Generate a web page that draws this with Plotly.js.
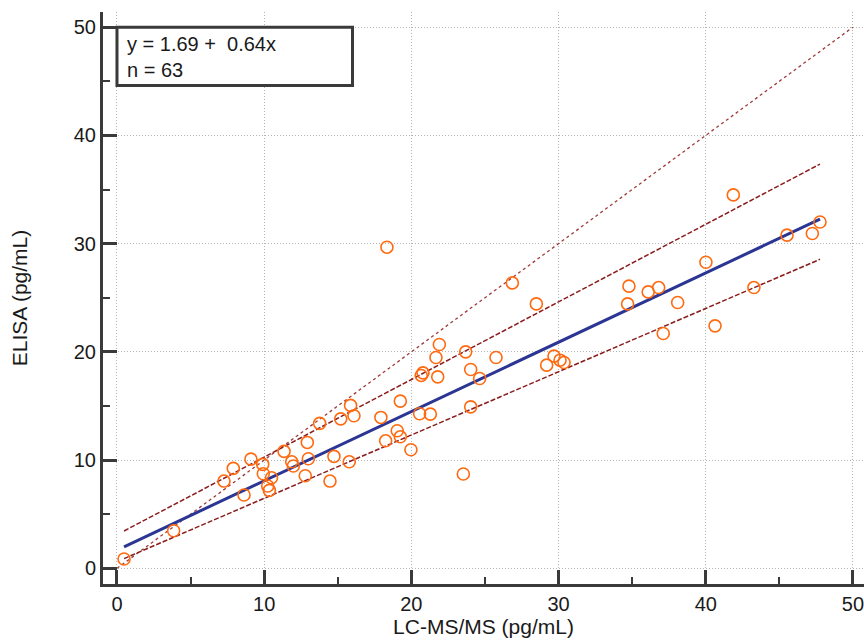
<!DOCTYPE html>
<html>
<head>
<meta charset="utf-8">
<script src="https://cdn.plot.ly/plotly-3.0.1.min.js"></script>
<style>
  html, body { margin: 0; padding: 0; background: #fff; }
  #chart { width: 864px; height: 641px; }
</style>
</head>
<body>
<div id="chart"></div>
<script>
// Measured points (LC-MS/MS vs ELISA, pg/mL)
const lcms = [
  0.48, 3.85, 7.27, 7.9, 9.1, 8.63, 9.9, 9.94, 10.5, 10.24, 10.35, 11.35, 11.87, 11.98,
  12.93, 13.0, 12.79, 13.77, 14.47, 14.74, 15.2, 15.78, 15.87,
  18.34, 26.86, 28.49, 21.9, 23.69, 21.67, 25.75, 20.79, 20.67, 21.79, 24.03, 24.64,
  29.19, 29.69, 30.1, 30.37, 19.25, 16.1, 17.93, 20.56, 21.29, 24.03, 19.04, 19.25,
  18.25, 19.97, 23.53,
  41.87, 47.76, 45.52, 47.24, 40.01, 34.78, 36.8, 36.09, 34.69, 38.09, 43.27, 40.63, 37.11
];
const elisa = [
  0.86, 3.47, 8.06, 9.23, 10.09, 6.77, 9.6, 8.74, 8.37, 7.6, 7.2, 10.8, 9.84, 9.45,
  11.63, 10.12, 8.55, 13.39, 8.06, 10.34, 13.81, 9.84, 15.05,
  29.67, 26.37, 24.43, 20.68, 20.0, 19.48, 19.48, 18.06, 17.82, 17.69, 18.37, 17.54,
  18.77, 19.6, 19.23, 19.02, 15.45, 14.09, 13.94, 14.28, 14.25, 14.92, 12.71, 12.15,
  11.78, 10.95, 8.71,
  34.5, 32.0, 30.78, 30.93, 28.28, 26.07, 25.94, 25.54, 24.43, 24.56, 25.94, 22.4, 21.7
];

// Line endpoints
const fitX = [0.48, 47.76];
const fitY = [1.99, 32.26];
const upperX = [0.48, 47.76];
const upperY = [3.45, 37.35];
const lowerX = [0.48, 47.76];
const lowerY = [0.9, 28.55];
const identX = [0, 50];
const identY = [0, 50];

const tickVals = [0, 10, 20, 30, 40, 50];
const tickText = ['0', '10', '20', '30', '40', '50'];

const boxText = 'y = 1.69 +  0.64x<br>n = 63';
const xTitle = 'LC-MS/MS (pg/mL)';
const yTitle = 'ELISA (pg/mL)';

const FONT = 'Liberation Sans, Arial, sans-serif';
const AX = '#3a3a3a';

const traces = [
  { x: identX, y: identY, mode: 'lines', line: { color: '#a03a3a', width: 1.3, dash: 'dot' }, hoverinfo: 'skip' },
  { x: upperX, y: upperY, mode: 'lines', line: { color: '#8b1c1c', width: 1.5, dash: '5px,2px' }, hoverinfo: 'skip' },
  { x: lowerX, y: lowerY, mode: 'lines', line: { color: '#8b1c1c', width: 1.5, dash: '5px,2px' }, hoverinfo: 'skip' },
  { x: fitX, y: fitY, mode: 'lines', line: { color: '#2b3593', width: 3 }, hoverinfo: 'skip' },
  { x: lcms, y: elisa, mode: 'markers',
    marker: { symbol: 'circle-open', size: 12, color: '#ff6a10', line: { width: 1.6, color: '#ff6a10' } } }
];

const axisCommon = {
  tickvals: tickVals, ticktext: tickText,
  ticks: 'inside', ticklen: 14, tickwidth: 3, tickcolor: AX,
  showline: true, linewidth: 3, linecolor: AX,
  showgrid: true, gridcolor: '#b4b4b4', gridwidth: 1, griddash: '1px,2px',
  zeroline: false,
  ticklabeloverflow: 'allow',
  tickfont: { family: FONT, size: 20, color: '#1a1a1a' },
  minor: { dtick: 5, tick0: 0, ticks: 'inside', ticklen: 7, tickwidth: 2, tickcolor: AX, showgrid: false },
  fixedrange: true
};

const layout = {
  width: 864, height: 641,
  margin: { l: 103, r: 0, t: 12, b: 57 },
  paper_bgcolor: '#fff', plot_bgcolor: '#fff',
  showlegend: false,
  xaxis: Object.assign({}, axisCommon, {
    range: [-0.95, 50.75],
    title: { text: xTitle, font: { family: FONT, size: 21, color: '#1a1a1a' }, standoff: 4 }
  }),
  yaxis: Object.assign({}, axisCommon, {
    range: [-1.45, 51.4],
    title: { text: yTitle, font: { family: FONT, size: 21, color: '#1a1a1a' }, standoff: 41 }
  }),
  shapes: [
    { type: 'rect', xref: 'x', yref: 'y', x0: 0, x1: 16.0, y0: 44.6, y1: 50,
      line: { color: AX, width: 3 }, fillcolor: '#fff', layer: 'above' }
  ],
  annotations: [
    { xref: 'x', yref: 'y', x: 0.55, y: 47.25, xanchor: 'left', yanchor: 'middle', align: 'left',
      text: boxText, showarrow: false, font: { family: FONT, size: 20, color: '#1a1a1a' } }
  ]
};

Plotly.newPlot('chart', traces, layout, { displayModeBar: false, staticPlot: true });
</script>
</body>
</html>
